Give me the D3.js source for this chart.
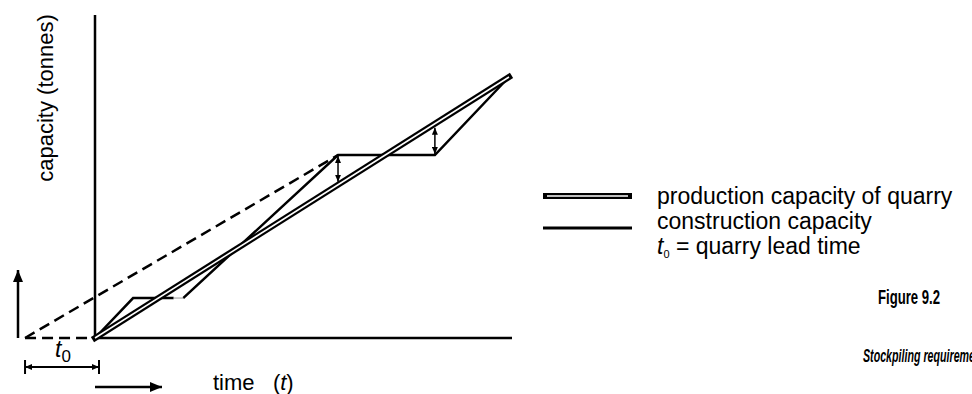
<!DOCTYPE html>
<html>
<head>
<meta charset="utf-8">
<script src="https://cdn.jsdelivr.net/npm/d3@7"></script>
<style>
  body { margin: 0; background: #fff; }
  svg { display: block; }
  text { font-family: "Liberation Sans", Arial, sans-serif; fill: #000; }
</style>
</head>
<body>
<div id="chart"></div>
<script>
// conceptual values, in units of time (t) and capacity
const leadTime = -1.69;                       // t0 before start of construction
const production = [[0, 0], [10, 10]];        // production capacity of quarry
const constructionA = [[0, 0], [0.92, 1.53], [1.9, 1.53]];
const constructionGap = [[1.9, 1.53], [2.13, 1.53]];
const constructionB = [[2.13, 1.53], [5.87, 7.01], [8.21, 7.01], [10, 10]];
const quarryStart = [[leadTime, 0], [5.87, 7.01]];   // dashed line from t0
const stockpile = [[5.87, 7.01, 5.87], [8.21, 7.01, 8.21]]; // t, construction, production

const legendItems = ["production capacity of quarry", "construction capacity", "= quarry lead time"];

const width = 972;
const height = 394;

const svg = d3.select("#chart")
    .append("svg")
    .attr("width", width)
    .attr("height", height);

const x = d3.scaleLinear().domain([0, 10]).range([95, 509]);
const y = d3.scaleLinear().domain([0, 10]).range([338, 77]);

const line = d3.line().x(d => x(d[0])).y(d => y(d[1]));

// arrow heads
const defs = svg.append("defs");
function marker(id, w, h) {
    defs.append("marker")
        .attr("id", id)
        .attr("viewBox", `0 -${h / 2} ${w} ${h}`)
        .attr("refX", w)
        .attr("refY", 0)
        .attr("markerUnits", "userSpaceOnUse")
        .attr("markerWidth", w)
        .attr("markerHeight", h)
        .attr("orient", "auto-start-reverse")
        .append("path")
        .attr("d", `M0,-${h / 2}L${w},0L0,${h / 2}Z`)
        .attr("fill", "#000");
}
marker("big", 12, 10);
marker("small", 7, 6);

// axes
svg.append("line")
    .attr("x1", x(0)).attr("x2", x(0))
    .attr("y1", 15).attr("y2", y(0))
    .attr("stroke", "#000").attr("stroke-width", 2.5);
svg.append("line")
    .attr("x1", x(0)).attr("x2", 512)
    .attr("y1", y(0)).attr("y2", y(0))
    .attr("stroke", "#000").attr("stroke-width", 2.5);

// dashed lead time lines
svg.append("path")
    .attr("d", line(quarryStart))
    .attr("fill", "none")
    .attr("stroke", "#000")
    .attr("stroke-width", 2.5)
    .attr("stroke-dasharray", "11,6");
svg.append("line")
    .attr("x1", x(leadTime)).attr("x2", x(0))
    .attr("y1", y(0)).attr("y2", y(0))
    .attr("stroke", "#000").attr("stroke-width", 2.5)
    .attr("stroke-dasharray", "11,6");

// construction capacity
[constructionA, constructionB].forEach(seg => {
    svg.append("path")
        .attr("d", line(seg))
        .attr("fill", "none")
        .attr("stroke", "#000")
        .attr("stroke-width", 2.5)
        .attr("stroke-linejoin", "miter");
});
svg.append("path")
    .attr("d", line(constructionGap))
    .attr("fill", "none")
    .attr("stroke", "#bbb")
    .attr("stroke-width", 1.5);

// production capacity (double line)
svg.append("path")
    .attr("d", line(production))
    .attr("stroke", "#000").attr("stroke-width", 6)
    .attr("stroke-linecap", "square");
svg.append("path")
    .attr("d", line(production))
    .attr("stroke", "#fff").attr("stroke-width", 1.5);

// stockpile arrows
svg.selectAll(".stock")
    .data(stockpile)
    .enter().append("line")
    .attr("class", "stock")
    .attr("x1", d => x(d[0])).attr("x2", d => x(d[0]))
    .attr("y1", d => y(d[1]) + (d[2] < d[1] ? 1 : -1))
    .attr("y2", d => y(d[2]) + (d[2] < d[1] ? -3 : 4))
    .attr("stroke", "#000").attr("stroke-width", 1.5)
    .attr("marker-start", "url(#small)")
    .attr("marker-end", "url(#small)");

// direction arrows
svg.append("line")
    .attr("x1", 18).attr("x2", 18).attr("y1", y(0)).attr("y2", 270)
    .attr("stroke", "#000").attr("stroke-width", 2.5)
    .attr("marker-end", "url(#big)");
svg.append("line")
    .attr("x1", x(0)).attr("x2", 162).attr("y1", 387).attr("y2", 387)
    .attr("stroke", "#000").attr("stroke-width", 2.5)
    .attr("marker-end", "url(#big)");

// t0 dimension
const dimY = 367;
svg.append("line")
    .attr("x1", x(leadTime)).attr("x2", x(0) + 4)
    .attr("y1", dimY).attr("y2", dimY)
    .attr("stroke", "#000").attr("stroke-width", 2)
    .attr("marker-start", "url(#small)")
    .attr("marker-end", "url(#small)");
[x(leadTime), x(0) + 4].forEach(px => {
    svg.append("line")
        .attr("x1", px).attr("x2", px)
        .attr("y1", dimY - 7).attr("y2", dimY + 7)
        .attr("stroke", "#000").attr("stroke-width", 2);
});
const t0 = svg.append("text")
    .attr("x", 55).attr("y", 357)
    .style("font-size", "23px");
t0.append("tspan").style("font-style", "italic").text("t");
t0.append("tspan").attr("dy", 5).style("font-size", "17px").text("0");

// axis titles
svg.append("text")
    .attr("transform", "translate(53,98) rotate(-90)")
    .attr("text-anchor", "middle")
    .style("font-size", "22px")
    .text("capacity (tonnes)");
const tt = svg.append("text")
    .attr("x", 213).attr("y", 390)
    .style("font-size", "22px")
    .attr("xml:space", "preserve");
tt.append("tspan").text("time   (");
tt.append("tspan").style("font-style", "italic").text("t");
tt.append("tspan").text(")");

// legend
const lx = 543, lw = 89;
svg.append("line")
    .attr("x1", lx).attr("x2", lx + lw).attr("y1", 196).attr("y2", 196)
    .attr("stroke", "#000").attr("stroke-width", 6);
svg.append("line")
    .attr("x1", lx + 4).attr("x2", lx + lw - 4).attr("y1", 196).attr("y2", 196)
    .attr("stroke", "#fff").attr("stroke-width", 1.5);
svg.append("line")
    .attr("x1", lx).attr("x2", lx + lw).attr("y1", 228).attr("y2", 228)
    .attr("stroke", "#000").attr("stroke-width", 3);

const legendY = [204, 229, 254];
legendItems.forEach((s, i) => {
    const t = svg.append("text")
        .attr("x", 657).attr("y", legendY[i])
        .style("font-size", "23px");
    if (i === 2) {
        t.append("tspan").style("font-style", "italic").text("t");
        t.append("tspan").attr("dy", 4).style("font-size", "11px").text("0");
        t.append("tspan").attr("dy", -4).text(" " + s);
    } else {
        t.text(s);
    }
});

// caption
svg.append("text")
    .attr("x", 878).attr("y", 304)
    .style("font-weight", "bold")
    .style("font-size", "20px")
    .attr("textLength", 62)
    .attr("lengthAdjust", "spacingAndGlyphs")
    .text("Figure 9.2");
svg.append("text")
    .attr("x", 863).attr("y", 362)
    .style("font-weight", "bold")
    .style("font-style", "italic")
    .style("font-size", "18px")
    .attr("textLength", 128)
    .attr("lengthAdjust", "spacingAndGlyphs")
    .text("Stockpiling requirements");
</script>
</body>
</html>
